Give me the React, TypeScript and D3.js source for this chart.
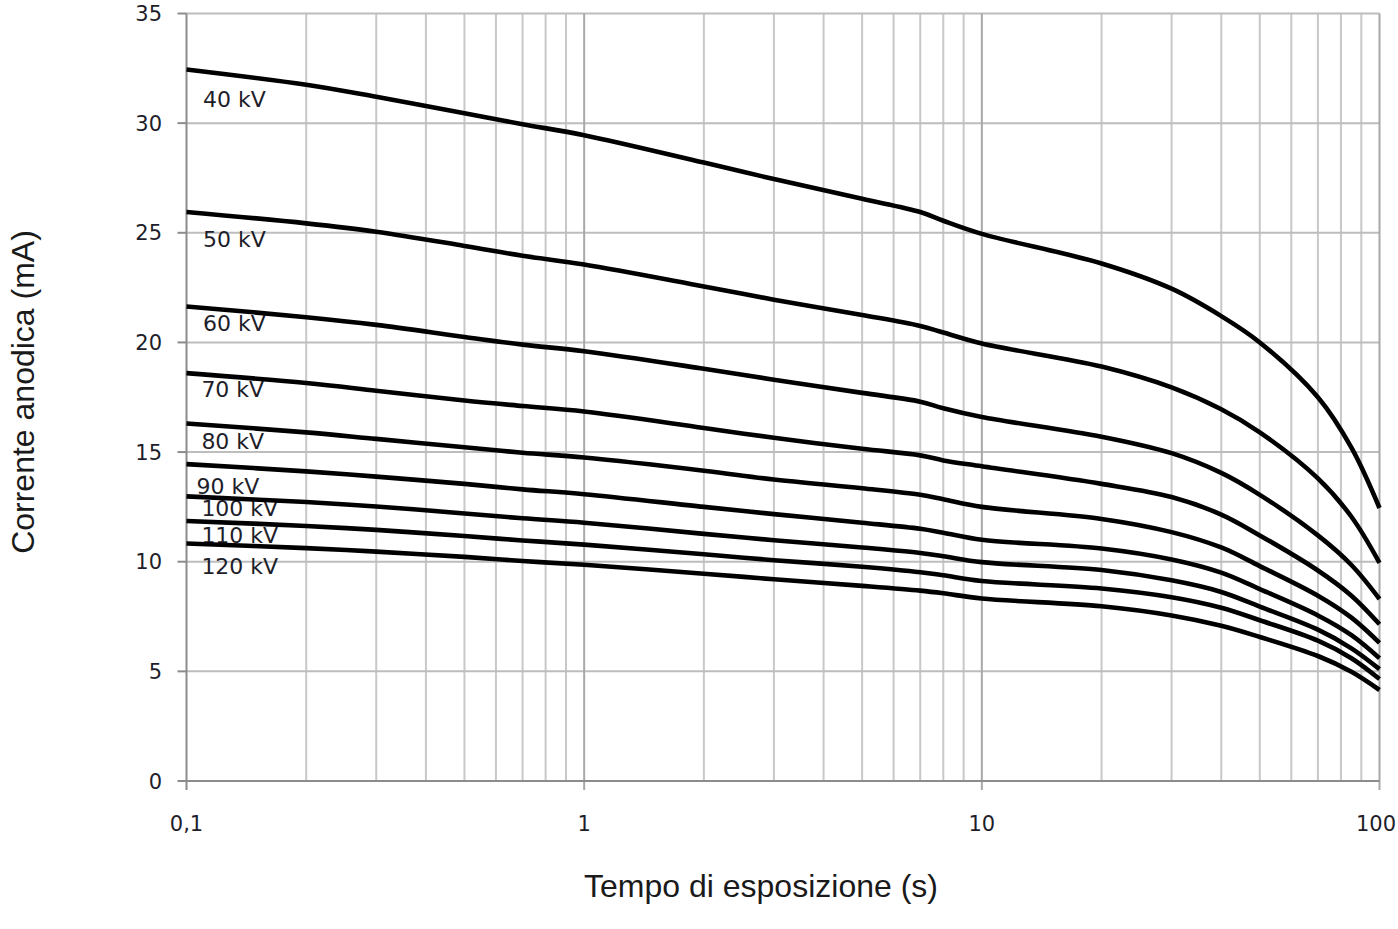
import React from "react";
import * as d3 from "d3";

const times = [0.1, 0.2, 0.3, 0.5, 0.7, 1, 2, 3, 5, 7, 8, 10, 20, 30, 40, 50, 70, 85, 100];

const kv40 = [32.45, 31.75, 31.2, 30.45, 29.95, 29.45, 28.2, 27.45, 26.55, 25.95, 25.55, 24.95, 23.6, 22.45, 21.2, 20.0, 17.5, 15.2, 12.45];
const kv50 = [25.95, 25.43, 25.05, 24.4, 23.95, 23.55, 22.55, 21.95, 21.25, 20.75, 20.45, 19.95, 18.9, 17.95, 16.95, 15.9, 13.8, 12.05, 9.95];
const kv60 = [21.64, 21.15, 20.8, 20.25, 19.9, 19.6, 18.8, 18.3, 17.7, 17.3, 17.0, 16.6, 15.7, 14.95, 14.05, 13.05, 11.2, 9.85, 8.3];
const kv70 = [18.6, 18.15, 17.8, 17.35, 17.1, 16.85, 16.1, 15.65, 15.15, 14.85, 14.62, 14.35, 13.55, 12.95, 12.15, 11.2, 9.6, 8.45, 7.15];
const kv80 = [16.3, 15.9, 15.6, 15.22, 14.97, 14.75, 14.15, 13.75, 13.35, 13.05, 12.85, 12.5, 11.95, 11.35, 10.65, 9.8, 8.45, 7.45, 6.3];
const kv90 = [14.45, 14.12, 13.88, 13.55, 13.3, 13.08, 12.5, 12.17, 11.78, 11.5, 11.32, 11.0, 10.6, 10.1, 9.5, 8.75, 7.55, 6.65, 5.6];
const kv100 = [12.98, 12.72, 12.52, 12.2, 11.98, 11.78, 11.27, 10.98, 10.65, 10.4, 10.25, 9.98, 9.62, 9.15, 8.62, 7.95, 6.9, 6.05, 5.1];
const kv110 = [11.86, 11.63, 11.45, 11.17, 10.97, 10.78, 10.34, 10.07, 9.77, 9.52, 9.38, 9.12, 8.78, 8.38, 7.9, 7.33, 6.4, 5.6, 4.65];
const kv120 = [10.83, 10.62, 10.46, 10.22, 10.03, 9.86, 9.45, 9.2, 8.9, 8.68, 8.56, 8.32, 7.97, 7.55, 7.08, 6.57, 5.7, 4.98, 4.15];

const seriesNames = ["40 kV", "50 kV", "60 kV", "70 kV", "80 kV", "90 kV", "100 kV", "110 kV", "120 kV"];
const seriesValues = [kv40, kv50, kv60, kv70, kv80, kv90, kv100, kv110, kv120];
// label baseline positions (mA, s)
const labelValues = [30.74, 24.35, 20.53, 17.52, 15.13, 13.1, 12.1, 10.84, 9.43];
const labelTime = [0.11, 0.11, 0.11, 0.109, 0.109, 0.106, 0.109, 0.109, 0.109];

const yTicks = [0, 5, 10, 15, 20, 25, 30, 35];
const xMajor = [0.1, 1, 10, 100];
const xMajorLabels = ["0,1", "1", "10", "100"];

const W = 1398;
const H = 929;

export default function App() {
  const x = d3.scaleLog().domain([0.1, 100]).range([186.5, 1379.5]);
  const y = d3.scaleLinear().domain([0, 35]).range([781, 13.5]);

  const minor: number[] = [];
  [0.1, 1, 10].forEach((d) => {
    for (let k = 2; k <= 9; k++) minor.push(d * k);
  });

  const line = d3
    .line<number>()
    .x((_, i) => x(times[i]))
    .y((v) => y(v))
    .curve(d3.curveCatmullRom.alpha(0.5));

  const tickFont = "'DejaVu Sans', Verdana, sans-serif";
  const titleFont = "'Liberation Sans', Arial, sans-serif";

  return (
    <svg
      width={W}
      height={H}
      style={{ position: "absolute", left: 0, top: 0, background: "#fff" }}
    >
      {minor.map((t) => (
        <line key={"m" + t} x1={x(t)} x2={x(t)} y1={y(35)} y2={y(0)} stroke="#c8c8c8" strokeWidth={2} />
      ))}
      {yTicks.map((v) => (
        <line key={"h" + v} x1={x(0.1)} x2={x(100)} y1={y(v)} y2={y(v)} stroke="#bdbdbd" strokeWidth={2} />
      ))}
      {xMajor.slice(1).map((t) => (
        <line key={"M" + t} x1={x(t)} x2={x(t)} y1={y(35)} y2={y(0) + 9} stroke="#a8a8a8" strokeWidth={2} />
      ))}
      <line x1={x(0.1)} x2={x(0.1)} y1={y(35)} y2={y(0) + 9} stroke="#8c8c8c" strokeWidth={2} />
      <line x1={x(0.1)} x2={x(100)} y1={y(0)} y2={y(0)} stroke="#8c8c8c" strokeWidth={2} />
      {yTicks.map((v) => (
        <line key={"yt" + v} x1={x(0.1) - 9} x2={x(0.1)} y1={y(v)} y2={y(v)} stroke="#8c8c8c" strokeWidth={2} />
      ))}
      {yTicks.map((v) => (
        <text
          key={"yl" + v}
          x={162}
          y={y(v)}
          dy="0.36em"
          textAnchor="end"
          fontFamily={tickFont}
          fontSize={21}
          fill="#1e1e2a"
        >
          {v}
        </text>
      ))}
      {xMajor.map((t, i) => (
        <text
          key={"xl" + t}
          x={Math.min(x(t), 1376)}
          y={831}
          textAnchor="middle"
          fontFamily={tickFont}
          fontSize={21}
          fill="#1e1e2a"
        >
          {xMajorLabels[i]}
        </text>
      ))}
      {seriesNames.map((n, i) => (
        <text
          key={"lab" + n}
          x={x(labelTime[i])}
          y={y(labelValues[i])}
          fontFamily={tickFont}
          fontSize={22}
          fill="#1e1e2a"
        >
          {n}
        </text>
      ))}
      {seriesValues.map((vals, i) => (
        <path
          key={"s" + i}
          d={line(vals) || ""}
          fill="none"
          stroke="#000"
          strokeWidth={4.6}
          strokeLinejoin="round"
        />
      ))}
      <text
        transform={`translate(34, 392) rotate(-90)`}
        textAnchor="middle"
        fontFamily={titleFont}
        fontSize={32}
        fill="#1a1a1a"
      >
        Corrente anodica (mA)
      </text>
      <text
        x={761}
        y={897}
        textAnchor="middle"
        fontFamily={titleFont}
        fontSize={32}
        fill="#1a1a1a"
      >
        Tempo di esposizione (s)
      </text>
    </svg>
  );
}
